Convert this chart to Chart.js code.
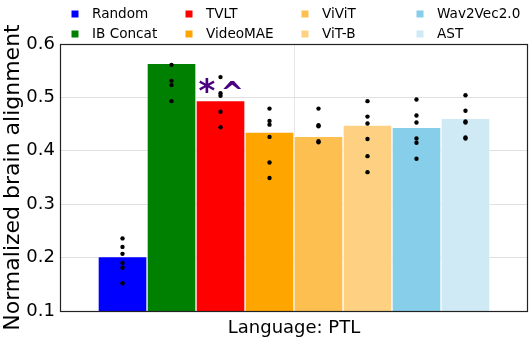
<!DOCTYPE html>
<html>
<head>
<meta charset="utf-8">
<script src="https://cdn.jsdelivr.net/npm/chart.js@4"></script>
<style>
html,body{margin:0;padding:0;background:#fff;}
#wrap{width:529px;height:364px;position:relative;}
</style>
</head>
<body>
<div id="wrap"><canvas id="c"></canvas></div>
<script>
// ---- data ----
const categoryLabels = ['Language: PTL'];
const models = ['Random', 'IB Concat', 'TVLT', 'VideoMAE', 'ViViT', 'ViT-B', 'Wav2Vec2.0', 'AST'];
const meanValues = [0.202, 0.564, 0.494, 0.435, 0.427, 0.448, 0.444, 0.461];
const randomPts   = [0.236, 0.220, 0.207, 0.190, 0.181, 0.152];
const ibConcatPts = [0.561, 0.531, 0.523, 0.493];
const tvltPts     = [0.538, 0.508, 0.503, 0.473, 0.444];
const videoMaePts = [0.479, 0.456, 0.449, 0.426, 0.378, 0.349];
const vivitPts    = [0.479, 0.448, 0.446, 0.418, 0.416];
const vitBPts     = [0.493, 0.464, 0.451, 0.422, 0.390, 0.360];
const wav2vecPts  = [0.496, 0.466, 0.453, 0.423, 0.415, 0.385];
const astPts      = [0.504, 0.475, 0.455, 0.453, 0.425, 0.423];
const subjectPts = [randomPts, ibConcatPts, tvltPts, videoMaePts, vivitPts, vitBPts, wav2vecPts, astPts];
const yTicks = [0.1, 0.2, 0.3, 0.4, 0.5, 0.6];
const annotationParts = ['*', '^'];
const annotationModel = 'TVLT';
const annotationValue = 0.524;

// ---- styles ----
const colors = ['#0000ff', '#008000', '#ff0000', '#ffa500', '#fdbf4f', '#fdd181', '#87ceeb', '#d0eaf5'];
const FONT = "'DejaVu Sans', Verdana, sans-serif";

const barDatasets = models.map((m, i) => ({
  type: 'bar',
  label: m,
  xAxisID: 'x2',
  data: [{x: i + 1, y: meanValues[i]}],
  backgroundColor: colors[i],
  borderColor: 'rgba(255,255,255,0.55)',
  borderWidth: 1,
  borderSkipped: false,
  grouped: false,
  categoryPercentage: 1,
  barPercentage: 1,
  order: 2
}));

const dotPoints = [];
subjectPts.forEach((arr, i) => arr.forEach(v => dotPoints.push({x: i + 1, y: v})));

const dotDataset = {
  type: 'scatter',
  label: 'subjects',
  xAxisID: 'x2',
  data: dotPoints,
  backgroundColor: '#000',
  borderColor: '#000',
  pointRadius: 2.2,
  pointBorderWidth: 0,
  order: 0
};

const legendPlugin = {
  id: 'colLegend',
  afterDraw(chart) {
    const ctx = chart.ctx;
    ctx.save();
    ctx.font = '13.6px ' + FONT;
    ctx.textBaseline = 'middle';
    const colX = [75, 189, 305, 420];
    const rowY = [14, 34];
    models.forEach((m, i) => {
      const col = Math.floor(i / 2), row = i % 2;
      ctx.fillStyle = colors[i];
      ctx.fillRect(colX[col] - 3.5, rowY[row] - 3.5, 7, 7);
      ctx.fillStyle = '#000';
      ctx.fillText(m, colX[col] + 17, rowY[row] + 0.5);
    });
    ctx.restore();
  }
};

function drawCentered(ctx, txt, cx, cy, font) {
  ctx.font = font;
  ctx.textAlign = 'left';
  ctx.textBaseline = 'alphabetic';
  const m = ctx.measureText(txt);
  const w = m.actualBoundingBoxRight + m.actualBoundingBoxLeft;
  const h = m.actualBoundingBoxAscent + m.actualBoundingBoxDescent;
  const x = cx - w / 2 + m.actualBoundingBoxLeft;
  const y = cy - h / 2 + m.actualBoundingBoxAscent;
  ctx.fillText(txt, x, y);
}

const framePlugin = {
  id: 'frame',
  afterDatasetsDraw(chart) {
    const {ctx} = chart;
    const idx = models.indexOf(annotationModel);
    const xs = chart.scales.x2.getPixelForValue(idx + 1);
    const ys = chart.scales.y.getPixelForValue(annotationValue);
    ctx.save();
    ctx.fillStyle = '#4b0082';
    drawCentered(ctx, annotationParts[0], xs - 13.5, ys + 0.5, 'bold 32px ' + FONT);
    drawCentered(ctx, annotationParts[1], xs + 11.5, ys + 0.5, 'bold 28px ' + FONT);
    ctx.restore();
  },
  afterDraw(chart) {
    const {ctx, chartArea: a} = chart;
    ctx.save();
    ctx.strokeStyle = '#222';
    ctx.lineWidth = 1.2;
    ctx.strokeRect(a.left + 0.5, a.top + 0.5, a.right - a.left - 1, a.bottom - a.top);
    ctx.restore();
  }
};

function zeroPad(s) { s.paddingLeft = 0; s.paddingRight = 0; s.paddingTop = 0; s.paddingBottom = 0; }

new Chart(document.getElementById('c'), {
  type: 'bar',
  data: {datasets: [...barDatasets, dotDataset]},
  plugins: [legendPlugin, framePlugin],
  options: {
    responsive: true,
    maintainAspectRatio: false,
    animation: false,
    layout: {autoPadding: false, padding: {top: 44, right: 1, left: 0, bottom: 0}},
    plugins: {legend: {display: false}, tooltip: {enabled: false}},
    scales: {
      x: {
        type: 'category',
        labels: categoryLabels,
        offset: true,
        grid: {display: true, offset: false, color: '#e6e6e6', drawTicks: false},
        border: {display: false},
        ticks: {font: {family: FONT, size: 18}, color: '#000', padding: 7},
        afterFit(s) { s.height = 53; zeroPad(s); }
      },
      x2: {
        type: 'linear',
        display: false,
        offset: false,
        min: -0.276,
        max: 9.276,
        afterFit(s) { zeroPad(s); }
      },
      y: {
        min: 0.1,
        max: 0.6,
        afterBuildTicks(s) { s.ticks = yTicks.map(v => ({value: v})); },
        grid: {color: '#e0e0e0', drawTicks: false},
        border: {display: false},
        ticks: {font: {family: FONT, size: 18}, color: '#000', padding: 5,
                callback: v => v.toFixed(1)},
        title: {display: true, text: 'Normalized brain alignment',
                font: {family: FONT, size: 22}, color: '#000', padding: 0},
        afterFit(s) { s.width = 60; zeroPad(s); }
      }
    }
  }
});
</script>
</body>
</html>
